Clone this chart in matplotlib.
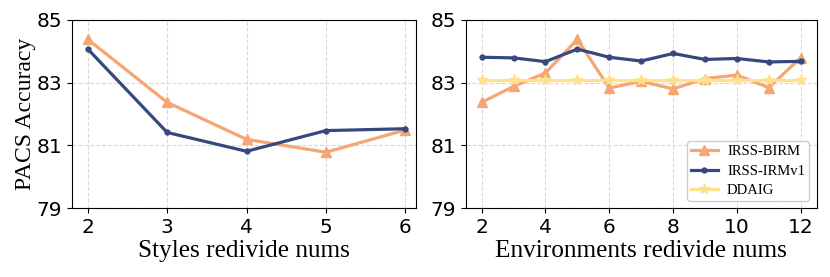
import matplotlib
matplotlib.use("Agg")
import matplotlib.pyplot as plt

style_nums = [2, 3, 4, 5, 6]
style_birm = [84.38, 82.37, 81.19, 80.78, 81.49]
style_irmv1 = [84.07, 81.41, 80.81, 81.47, 81.53]

env_nums = [2, 3, 4, 5, 6, 7, 8, 9, 10, 11, 12]
env_birm = [82.37, 82.88, 83.31, 84.38, 82.83, 83.04, 82.80, 83.13, 83.24, 82.84, 83.80]
env_irmv1 = [83.81, 83.79, 83.67, 84.07, 83.81, 83.69, 83.93, 83.74, 83.77, 83.66, 83.68]
env_ddaig = [83.09] * 11

yticks = [79, 81, 83, 85]
left_xticks = [2, 3, 4, 5, 6]
right_xticks = [2, 4, 6, 8, 10, 12]

c_orange = "#F5A672"
c_blue = "#35497F"
c_yellow = "#FFE18C"
serif = "Liberation Serif"

fig = plt.figure(figsize=(8.3, 2.77), dpi=100)
ax1 = fig.add_axes([0.0867, 0.249, 0.414, 0.679])
ax2 = fig.add_axes([0.561, 0.249, 0.423, 0.679])

for ax in (ax1, ax2):
    ax.set_ylim(79, 85)
    ax.set_yticks(yticks)
    ax.grid(True, linestyle="--", color="#d9d9d9", linewidth=0.8)
    ax.set_axisbelow(True)
    ax.tick_params(labelsize=14.5, length=3.5)

ax1.plot(style_nums, style_birm, color=c_orange, lw=2.3, marker="^", ms=7, label="IRSS-BIRM")
ax1.plot(style_nums, style_irmv1, color=c_blue, lw=2.3, marker="o", ms=3.5, label="IRSS-IRMv1")
ax1.set_xlim(1.8, 6.13)
ax1.set_xticks(left_xticks)
ax1.set_xlabel("Styles redivide nums", family=serif, fontsize=18.2, labelpad=2)
ax1.set_ylabel("PACS Accuracy", family=serif, fontsize=17, labelpad=0.5)

ax2.plot(env_nums, env_birm, color=c_orange, lw=2.3, marker="^", ms=7, label="IRSS-BIRM")
ax2.plot(env_nums, env_irmv1, color=c_blue, lw=2.3, marker="o", ms=3.5, label="IRSS-IRMv1")
ax2.plot(env_nums, env_ddaig, color=c_yellow, lw=2.3, marker="*", ms=8, label="DDAIG")
ax2.set_xlim(1.5, 12.5)
ax2.set_xticks(right_xticks)
ax2.set_xlabel("Environments redivide nums", family=serif, fontsize=18.2, labelpad=2)
ax2.legend(loc="lower right", prop={"family": serif, "size": 10.5}, framealpha=1,
           edgecolor="#cccccc", handlelength=1.9, handletextpad=0.6,
           borderpad=0.25, labelspacing=0.45, borderaxespad=0,
           bbox_to_anchor=(0.977, 0.037))

fig.savefig("out.png", dpi=100)
